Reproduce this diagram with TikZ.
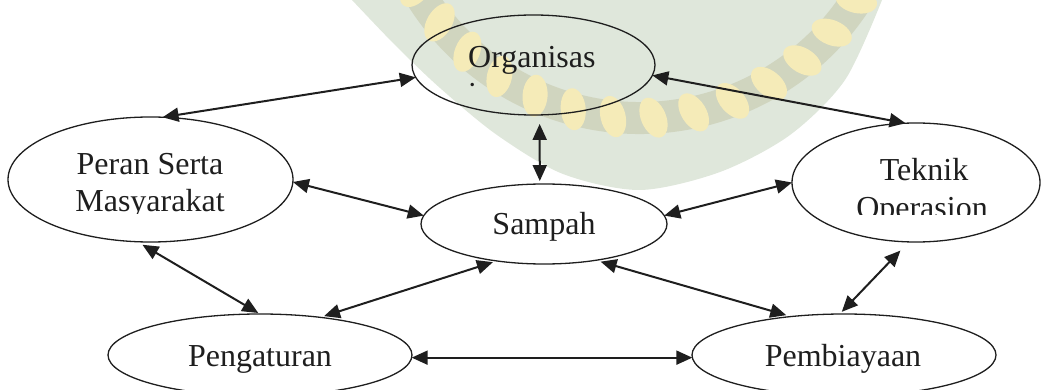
\documentclass[tikz,border=0pt]{standalone}
\usepackage{fontspec}
\setmainfont{Liberation Serif}
\usetikzlibrary{shapes.geometric,arrows.meta,calc}
\definecolor{ink}{HTML}{1E1E1E}
\definecolor{shield}{HTML}{DFE7DB}
\definecolor{band}{HTML}{D0D5BF}
\definecolor{leaf}{HTML}{F5EBB8}
\tikzset{
  ell/.style={ellipse,draw=ink,line width=1.3pt,inner sep=0pt,outer sep=0pt},
  lbl/.style={text=ink,font=\fontsize{32}{37}\selectfont,inner sep=0pt,anchor=base},
  link/.style={line width=2pt,draw=ink,{Triangle[length=16pt,width=14pt]}-{Triangle[length=16pt,width=14pt]}},
  leafshape/.style={fill=leaf}
}
\begin{document}
\begin{tikzpicture}[x=1pt,y=-1pt]
\path[use as bounding box,clip] (0,0) rectangle (1042,390);
% faint watermark
\fill[shield] (340,-5) -- plot[smooth] coordinates {(352,0) (395,45) (440,88) (497,135) (563,174) (640,190) (720,172) (790,135) (845,80) (882,0)} -- (890,-5) -- cycle;
\draw[band,line width=32pt] ($(640,-140)+(30:258)$) arc[start angle=30,end angle=150,radius=258];
\foreach \a in {33,42,...,150}{
  \begin{scope}[shift={($(640,-140)+(\a:258)$)},rotate=-\a+20]
    \fill[leafshape] (0,0) ellipse [x radius=21pt,y radius=12.5pt];
  \end{scope}
}
% ellipses
\node[ell,minimum width=243pt,minimum height=100pt] (org) at (533.5,65) {};
\node[ell,minimum width=285pt,minimum height=125pt] (peran) at (150.5,179.5) {};
\node[ell,minimum width=248pt,minimum height=119pt] (tek) at (916,182.5) {};
\node[ell,minimum width=246pt,minimum height=80pt] (sam) at (544,224) {};
\node[ell,minimum width=304pt,minimum height=82pt] (peng) at (260,355) {};
\node[ell,minimum width=304pt,minimum height=82pt] (pemb) at (844,355) {};
% texts
\node[lbl,anchor=base west] (torg1) at (468,68) {Organisas};
\begin{scope}
  \clip (440,70) rectangle (520,89);
  \node[lbl,anchor=base west] (torg2) at (468,105) {i};
\end{scope}
\node[lbl] (tper1) at (150,175) {Peran Serta};
\begin{scope}
  \clip (40,180) rectangle (260,213.5);
  \node[lbl] (tper2) at (150,212) {Masyarakat};
\end{scope}
\node[lbl] (ttek1) at (924,181) {Teknik};
\begin{scope}
  \clip (820,185) rectangle (1030,215);
  \node[lbl] (ttek2) at (922,219) {Operasion};
\end{scope}
\node[lbl] (tsam) at (544,235) {Sampah};
\node[lbl] (tpeng) at (260,366) {Pengaturan};
\node[lbl] (tpemb) at (843,366) {Pembiayaan};
% connectors
\draw[link] (peran.79) -- (org.186);
\draw[link] (org.355) -- (tek.100);
\draw[link,shorten <=9pt,shorten >=3pt] (org.277) -- (sam.96);
\draw[link] (peran.359) -- (sam.176);
\draw[link] (sam.4) -- (tek.180);
\draw[link,shorten <=6pt,shorten >=2pt] (peran.258) -- (peng.north);
\draw[link,shorten <=4pt,shorten >=4pt] (sam.218) -- (peng.32);
\draw[link,shorten <=5pt,shorten >=5pt] (sam.325) -- (pemb.144);
\draw[link,shorten <=12pt,shorten >=3pt] (tek.263) -- (pemb.96);
\draw[link] (peng.359) -- (pemb.181);
\end{tikzpicture}
\end{document}
